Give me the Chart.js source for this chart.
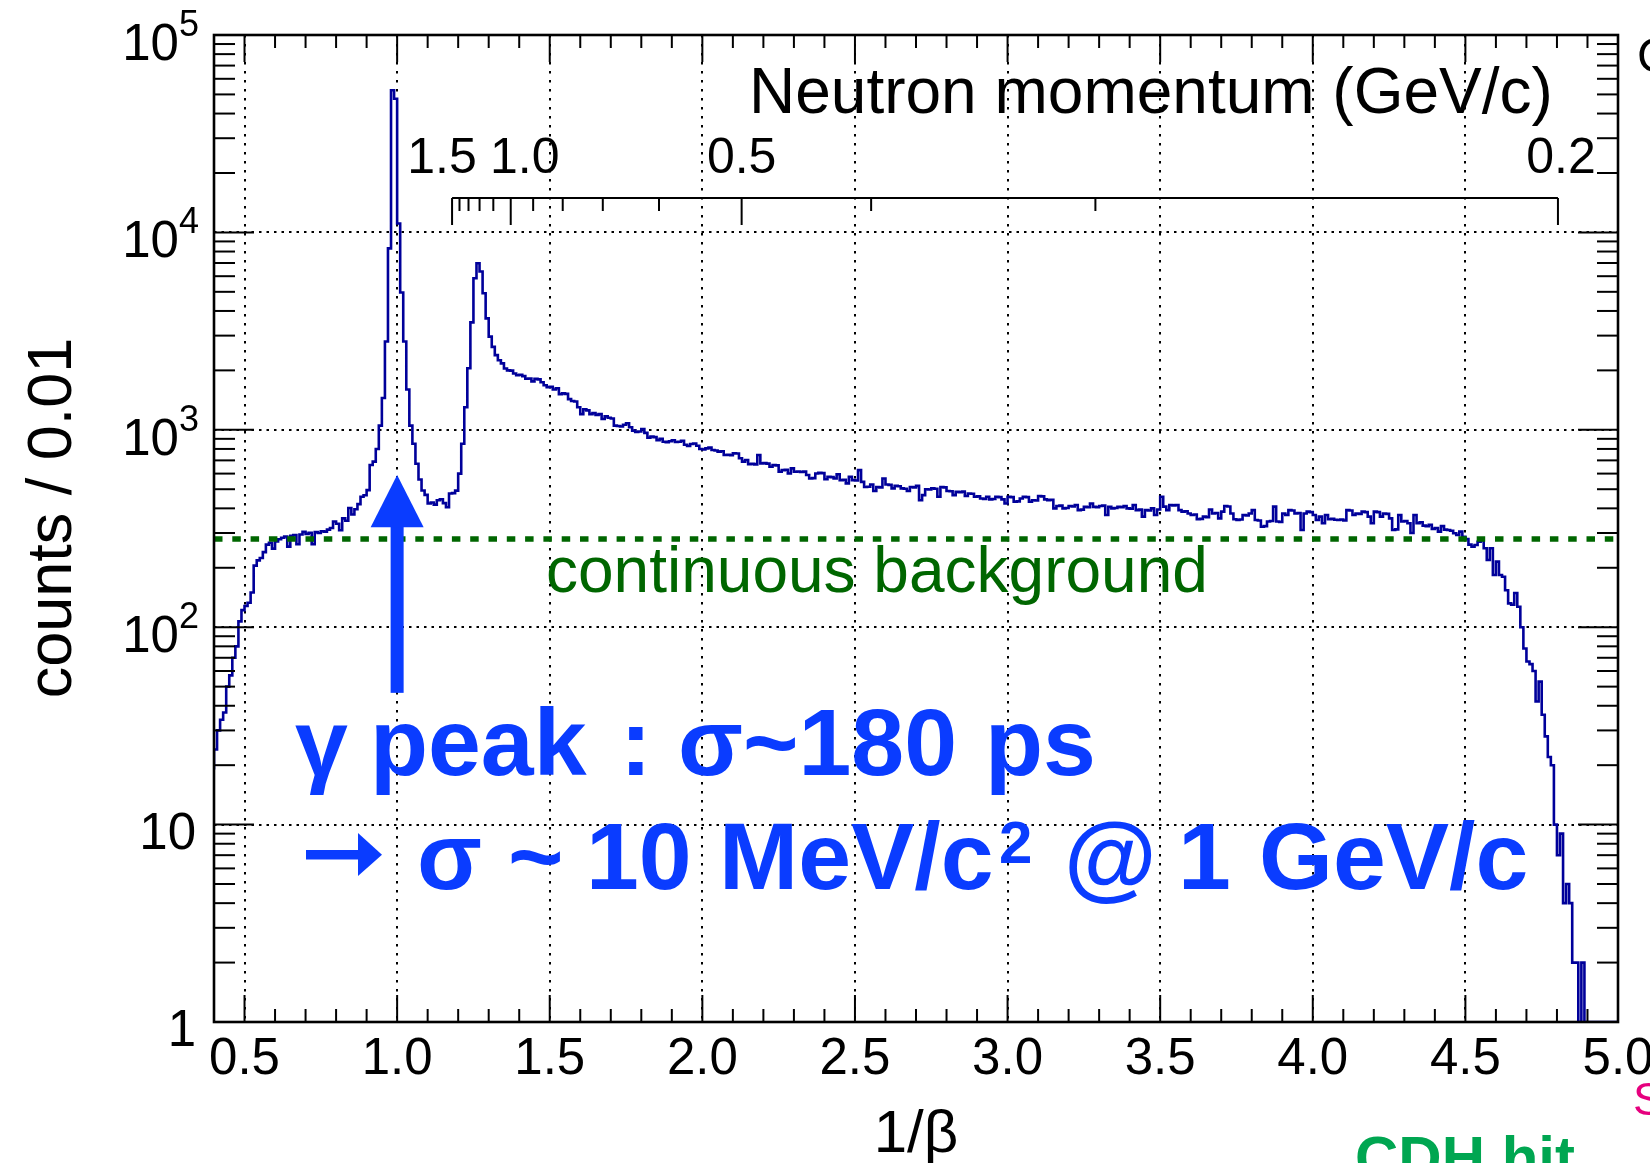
<!DOCTYPE html>
<html>
<head>
<meta charset="utf-8">
<title>1/beta spectrum</title>
<script src="https://cdn.jsdelivr.net/npm/chart.js@4.4.1/dist/chart.umd.min.js"></script>
<style>
  html, body { margin: 0; padding: 0; background: #fff; }
  #spectrum { display: block; }
</style>
</head>
<body>
<canvas id="spectrum" width="1650" height="1163"></canvas>
<script>
// 1/beta histogram, 0.4 .. 5.0 in bins of 0.01 (counts)
const binStart = 0.4;
const binWidth = 0.01;
const binCounts = [
    19, 24, 30, 34, 37, 50, 57, 70, 80, 107,
    122, 128, 133, 150, 205, 218, 224, 240, 262, 268,
    250, 272, 279, 284, 288, 256, 290, 293, 263, 295,
    304, 297, 301, 263, 303, 300, 306, 305, 312, 318,
    343, 334, 310, 356, 346, 402, 372, 396, 420, 458,
    466, 495, 663, 690, 800, 1050, 1450, 2800, 8300, 52500,
    47500, 11100, 4960, 2800, 1600, 1050, 850, 673, 560, 493,
    468, 423, 428, 418, 440, 445, 425, 405, 476, 478,
    492, 600, 850, 1300, 2050, 3500, 5860, 6980, 6340, 4920,
    3670, 2965, 2630, 2390, 2250, 2170, 2045, 2000, 1995, 1930,
    1890, 1900, 1870, 1815, 1820, 1760, 1815, 1800, 1740, 1680,
    1645, 1650, 1600, 1625, 1515, 1530, 1520, 1430, 1400, 1390,
    1300, 1200, 1270, 1255, 1200, 1215, 1190, 1200, 1135, 1170,
    1150, 1140, 1050, 1045, 1040, 1060, 1080, 1030, 990, 975,
    980, 1010, 965, 912, 925, 918, 887, 900, 870, 866,
    875, 885, 868, 870, 880, 840, 828, 848, 852, 830,
    800, 795, 805, 812, 790, 785, 775, 778, 745, 748,
    744, 760, 758, 717, 690, 703, 670, 672, 668, 745,
    676, 678, 674, 650, 663, 660, 613, 625, 627, 601,
    638, 613, 615, 611, 614, 590, 567, 569, 601, 605,
    603, 562, 578, 576, 567, 595, 556, 558, 535, 578,
    556, 554, 625, 545, 513, 515, 528, 490, 513, 511,
    567, 528, 526, 505, 520, 518, 505, 503, 490, 513,
    511, 520, 440, 467, 500, 498, 505, 503, 458, 513,
    511, 490, 488, 467, 485, 483, 486, 462, 476, 474,
    458, 460, 449, 447, 458, 444, 446, 458, 456, 444,
    423, 458, 456, 432, 434, 449, 458, 456, 432, 440,
    438, 462, 460, 444, 440, 442, 400, 411, 413, 400,
    402, 411, 409, 416, 392, 394, 407, 405, 423, 407,
    405, 411, 413, 370, 407, 400, 402, 407, 405, 411,
    400, 398, 416, 392, 394, 363, 392, 390, 400, 370,
    395, 458, 408, 392, 416, 414, 416, 392, 385, 387,
    377, 370, 372, 352, 354, 363, 361, 395, 377, 379,
    356, 385, 411, 409, 377, 352, 349, 351, 370, 368,
    377, 392, 349, 347, 323, 325, 343, 345, 408, 343,
    341, 377, 370, 392, 390, 377, 379, 311, 377, 385,
    383, 370, 349, 363, 336, 370, 352, 354, 350, 349,
    351, 347, 392, 390, 370, 377, 375, 385, 383, 363,
    336, 385, 383, 363, 377, 375, 356, 311, 313, 370,
    343, 345, 336, 300, 370, 336, 340, 327, 325, 330,
    315, 318, 305, 325, 312, 311, 308, 299, 293, 305,
    287, 280, 262, 256, 261, 271, 276, 251, 219, 251,
    184, 215, 184, 180, 154, 132, 130, 149, 127, 100,
    78, 67, 65, 60, 42, 53, 36, 28, 22, 20,
    10, 7, 9, 4, 5, 4, 2, 2, 0, 2,
    0, 0, 0, 0, 0, 0, 0, 0, 0, 0
];

const xRange = [0.4, 5.0];
const yRange = [1, 1e5];
const xTickValues = [0.5, 1.0, 1.5, 2.0, 2.5, 3.0, 3.5, 4.0, 4.5, 5.0];
const xTickLabels = ['0.5', '1.0', '1.5', '2.0', '2.5', '3.0', '3.5', '4.0', '4.5', '5.0'];
const yDecades = [1, 10, 100, 1000, 10000, 100000];
const bgLevel = 280; // continuous background level

// secondary axis: neutron momentum in GeV/c
const neutronMass = 0.9396;
const momentumMajor = [1.5, 1.0, 0.5, 0.2];
const momentumLabels = ['1.5', '1.0', '0.5', '0.2'];
const momentumMinor = [1.4, 1.3, 1.2, 1.1, 0.9, 0.8, 0.7, 0.6, 0.4, 0.3];

// gamma peak arrow (data coordinates)
const arrowX = 1.0;
const arrowTip = 590;
const arrowHeadBase = 321;
const arrowTail = 46.5;

const FONT = '"Liberation Sans", Arial, Helvetica, sans-serif';
const BLUE = '#0a3cff';
const HIST_COLOR = '#00009a';
const BG_GREEN = '#006600';

function invBeta(p) {
    return Math.sqrt(1 + (neutronMass / p) * (neutronMass / p));
}

function line(ctx, x1, y1, x2, y2) {
    ctx.beginPath();
    ctx.moveTo(x1, y1);
    ctx.lineTo(x2, y2);
    ctx.stroke();
}

function text(ctx, str, x, y, font, color, align) {
    ctx.font = font;
    ctx.fillStyle = color || '#000';
    ctx.textAlign = align || 'left';
    ctx.textBaseline = 'alphabetic';
    ctx.fillText(str, x, y);
}

function drawGrid(chart) {
    const { ctx, chartArea: a, scales: { x, y } } = chart;
    ctx.save();
    ctx.strokeStyle = '#000';
    ctx.lineWidth = 2;
    ctx.setLineDash([2.5, 6.5]);
    xTickValues.forEach(v => {
        if (v >= xRange[1]) return;
        const px = Math.round(x.getPixelForValue(v));
        line(ctx, px, a.top, px, a.bottom);
    });
    ctx.setLineDash([2.5, 5]);
    yDecades.forEach(v => {
        if (v <= yRange[0] || v >= yRange[1]) return;
        const py = Math.round(y.getPixelForValue(v));
        line(ctx, a.left, py, a.right, py);
    });
    ctx.restore();
}

function drawFrame(chart) {
    const { ctx, chartArea: a, scales: { x, y } } = chart;
    ctx.save();
    ctx.strokeStyle = '#000';
    ctx.lineWidth = 2;
    // x ticks, bottom and top
    for (let k = 5; k <= 49; k++) {
        const px = x.getPixelForValue(k / 10);
        const len = k % 5 === 0 ? 27 : 13;
        line(ctx, px, a.bottom, px, a.bottom - len);
        line(ctx, px, a.top, px, a.top + len);
    }
    // y ticks, left and right
    for (let e = 0; e < 5; e++) {
        for (let m = 1; m <= 9; m++) {
            const py = y.getPixelForValue(m * Math.pow(10, e));
            const len = m === 1 ? 40 : 21;
            line(ctx, a.left, py, a.left + len, py);
            line(ctx, a.right, py, a.right - len, py);
        }
    }
    ctx.lineWidth = 2.6;
    ctx.strokeRect(a.left, a.top, a.right - a.left, a.bottom - a.top);
    ctx.restore();
}

function drawAxisLabels(chart) {
    const { ctx, chartArea: a, scales: { x, y } } = chart;
    ctx.save();
    xTickValues.forEach((v, i) => {
        text(ctx, xTickLabels[i], x.getPixelForValue(v), a.bottom + 52, '51px ' + FONT, '#000', 'center');
    });
    const right = a.left - 16;
    yDecades.forEach((v, e) => {
        const py = y.getPixelForValue(v);
        if (e < 2) {
            text(ctx, String(v), right - 2, py + 24, '51px ' + FONT, '#000', 'right');
        } else {
            ctx.font = '36px ' + FONT;
            const w = ctx.measureText(String(e)).width;
            text(ctx, String(e), right + 1, py + 1, '36px ' + FONT, '#000', 'right');
            text(ctx, '10', right + 1 - w, py + 25, '51px ' + FONT, '#000', 'right');
        }
    });
    // axis titles
    text(ctx, '1/\u03b2', (a.left + a.right) / 2, 1152, '60px ' + FONT, '#000', 'center');
    ctx.translate(71, 518);
    ctx.rotate(-Math.PI / 2);
    text(ctx, 'counts / 0.01', 0, 0, '63px ' + FONT, '#000', 'center');
    ctx.restore();
}

function drawMomentumAxis(chart) {
    const { ctx, scales: { x } } = chart;
    const axisY = 198;
    const labelNudge = { '1.5': -10, '1.0': 14, '0.2': 3 };
    ctx.save();
    ctx.strokeStyle = '#000';
    ctx.lineWidth = 2;
    const x0 = x.getPixelForValue(invBeta(momentumMajor[0]));
    const x1 = x.getPixelForValue(invBeta(momentumMajor[momentumMajor.length - 1]));
    line(ctx, x0, axisY, x1, axisY);
    momentumMajor.forEach((p, i) => {
        const px = x.getPixelForValue(invBeta(p));
        line(ctx, px, axisY, px, axisY + 27);
        const lab = momentumLabels[i];
        text(ctx, lab, px + (labelNudge[lab] || 0), 173, '50px ' + FONT, '#000', 'center');
    });
    momentumMinor.forEach(p => {
        const px = x.getPixelForValue(invBeta(p));
        line(ctx, px, axisY, px, axisY + 13);
    });
    text(ctx, 'Neutron momentum (GeV/c)', 749, 113, '64px ' + FONT, '#000', 'left');
    ctx.restore();
}

function drawAnnotations(chart) {
    const { ctx, scales: { x, y } } = chart;
    ctx.save();
    text(ctx, 'continuous background', 546, 592, '64px ' + FONT, BG_GREEN, 'left');

    // arrow pointing at the gamma peak
    const ax = x.getPixelForValue(arrowX);
    const tipY = y.getPixelForValue(arrowTip);
    const baseY = y.getPixelForValue(arrowHeadBase);
    const tailY = y.getPixelForValue(arrowTail);
    ctx.fillStyle = BLUE;
    ctx.fillRect(ax - 6.5, baseY - 2, 13, tailY - baseY + 2);
    ctx.beginPath();
    ctx.moveTo(ax, tipY);
    ctx.lineTo(ax + 26.5, baseY);
    ctx.lineTo(ax - 26.5, baseY);
    ctx.closePath();
    ctx.fill();

    const big = 'bold 95px ' + FONT;
    [['\u03b3', 295], ['peak', 370], [':', 620], ['\u03c3~180', 678], ['ps', 985]]
        .forEach(([s, px]) => text(ctx, s, px, 775, big, BLUE, 'left'));

    // second line: the "->" sign is drawn as a shape, the font glyph is too thin
    ctx.fillStyle = BLUE;
    ctx.fillRect(306, 850, 56, 9.5);
    ctx.beginPath();
    ctx.moveTo(382, 854.7);
    ctx.lineTo(358, 833);
    ctx.lineTo(358, 876);
    ctx.closePath();
    ctx.fill();
    [['\u03c3', 417], ['~', 508], ['10', 586], ['MeV/c', 719], ['@', 1064], ['1', 1178], ['GeV/c', 1259]]
        .forEach(([s, px]) => text(ctx, s, px, 889, big, BLUE, 'left'));
    text(ctx, '2', 999, 863, 'bold 60px ' + FONT, BLUE, 'left');

    // neighbouring panel text cut off by the figure edge
    text(ctx, 'C', 1637, 72, '48px ' + FONT, '#000', 'left');
    text(ctx, 'S', 1633, 1115, '46px ' + FONT, '#e6007e', 'left');
    text(ctx, 'CDH hit', 1355, 1178, 'bold 60px ' + FONT, '#00a651', 'left');
    ctx.restore();
}

const rootFrame = {
    id: 'rootFrame',
    beforeDraw(chart) {
        const ctx = chart.ctx;
        ctx.save();
        ctx.fillStyle = '#fff';
        ctx.fillRect(0, 0, chart.width, chart.height);
        ctx.restore();
    },
    beforeDatasetsDraw(chart) {
        drawGrid(chart);
    },
    afterDatasetsDraw(chart) {
        drawFrame(chart);
        drawAxisLabels(chart);
        drawMomentumAxis(chart);
        drawAnnotations(chart);
    }
};

// empty bins sit on the axis minimum, as on a log plot
const histPoints = binCounts.map((c, i) => ({ x: binStart + i * binWidth, y: c > 0 ? c : yRange[0] }));
histPoints.push({ x: binStart + binCounts.length * binWidth, y: histPoints[histPoints.length - 1].y });

const ctx = document.getElementById('spectrum').getContext('2d');
const chart = new Chart(ctx, {
    type: 'line',
    data: {
        datasets: [
            {
                label: 'continuous background',
                data: [{ x: xRange[0], y: bgLevel }, { x: xRange[1], y: bgLevel }],
                borderColor: BG_GREEN,
                borderWidth: 5.5,
                borderDash: [8.5, 9.8],
                pointRadius: 0,
                order: 0
            },
            {
                label: 'counts / 0.01',
                data: histPoints,
                stepped: 'after',
                borderColor: HIST_COLOR,
                borderWidth: 2.6,
                pointRadius: 0,
                fill: false,
                order: 1
            }
        ]
    },
    options: {
        responsive: false,
        animation: false,
        devicePixelRatio: 1,
        layout: { padding: { left: 214, right: 32, top: 35, bottom: 141 } },
        plugins: {
            legend: { display: false },
            tooltip: { enabled: false }
        },
        scales: {
            x: { type: 'linear', min: xRange[0], max: xRange[1], display: false },
            y: { type: 'logarithmic', min: yRange[0], max: yRange[1], display: false }
        }
    },
    plugins: [rootFrame]
});
console.log('Chart drawn with', binCounts.length, 'bins');
</script>
</body>
</html>
